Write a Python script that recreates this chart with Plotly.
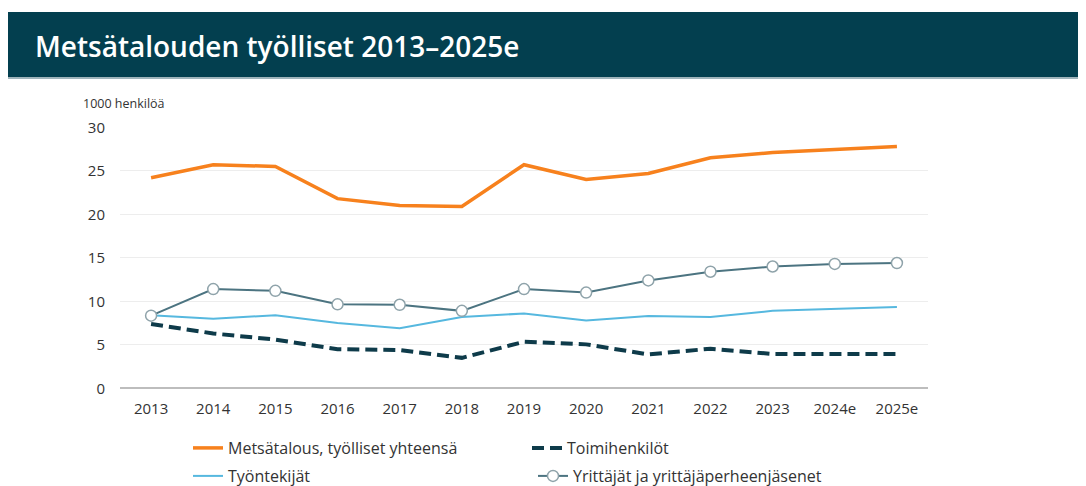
import plotly.graph_objects as go

years = ["2013", "2014", "2015", "2016", "2017", "2018", "2019", "2020",
         "2021", "2022", "2023", "2024e", "2025e"]
metsatalous = [24.2, 25.7, 25.5, 21.8, 21.0, 20.9, 25.7, 24.0, 24.7, 26.5, 27.1, 27.5, 27.8]
toimihenkilot = [7.4, 6.3, 5.6, 4.5, 4.4, 3.5, 5.35, 5.05, 3.9, 4.55, 3.95, 3.95, 3.95]
tyontekijat = [8.4, 8.0, 8.4, 7.5, 6.9, 8.2, 8.6, 7.8, 8.3, 8.2, 8.9, 9.15, 9.35]
yrittajat = [8.35, 11.4, 11.2, 9.65, 9.6, 8.9, 11.4, 11.0, 12.4, 13.4, 14.0, 14.3, 14.4]

# page body has an 8px margin: work in screen pixels and shift by OFF
OFF = 8
W, H = 1086 - OFF, 486 - OFF
def px(x):
    return (x - OFF) / W
def py(y):
    return 1 - (y - OFF) / H

font = "Open Sans"
fig = go.Figure()
fig.add_trace(go.Scatter(x=years, y=metsatalous, mode="lines",
                         name="Metsätalous, työlliset yhteensä",
                         line=dict(color="#f7811d", width=3.5), legend="legend"))
fig.add_trace(go.Scatter(x=years, y=toimihenkilot, mode="lines",
                         name="Toimihenkilöt",
                         line=dict(color="#0e3b4a", width=4, dash="12px,6px"), legend="legend2"))
fig.add_trace(go.Scatter(x=years, y=tyontekijat, mode="lines",
                         name="Työntekijät",
                         line=dict(color="#56b8df", width=2), legend="legend3"))
fig.add_trace(go.Scatter(x=years, y=yrittajat, mode="lines+markers",
                         name="Yrittäjät ja yrittäjäperheenjäsenet",
                         line=dict(color="#4c7481", width=2),
                         marker=dict(size=11, color="white", line=dict(color="#8fa3aa", width=1.5)),
                         legend="legend4"))

shapes = [
    dict(type="rect", xref="paper", yref="paper", x0=px(8), x1=1.0, y0=py(77), y1=py(12),
         fillcolor="#033f4f", line=dict(width=0), layer="below"),
    dict(type="rect", xref="paper", yref="paper", x0=px(8), x1=1.0, y0=py(79), y1=py(77),
         fillcolor="#9fb4bb", line=dict(width=0), layer="below"),
]

annotations = [
    dict(text="Metsätalouden työlliset 2013–2025e", xref="paper", yref="paper",
         x=px(33), y=py(46), xanchor="left", yanchor="middle", showarrow=False,
         font=dict(family=font, size=28, weight=600, color="white")),
    dict(text="1000 henkilöä", xref="paper", yref="paper",
         x=px(81), y=py(103), xanchor="left", yanchor="middle", showarrow=False,
         font=dict(family=font, size=12.5, color="#333333")),
]

def leg(xtext, ycenter):
    return dict(orientation="h", xref="paper", yref="paper",
                x=px(xtext - 40), y=py(ycenter), xanchor="left", yanchor="middle",
                font=dict(family=font, size=16, color="#333333"),
                bgcolor="rgba(0,0,0,0)", itemwidth=30)

fig.update_layout(
    width=W, height=H,
    margin=dict(l=0, r=0, t=0, b=0, autoexpand=False),
    paper_bgcolor="white", plot_bgcolor="white",
    font=dict(family=font, size=15, color="#333333"),
    shapes=shapes, annotations=annotations,
    showlegend=True,
    legend=leg(228, 448),
    legend2=leg(567, 448),
    legend3=leg(228, 476),
    legend4=leg(573, 476),
    xaxis=dict(domain=[px(120), px(928)], type="category", range=[-0.5, 12.5],
               showgrid=False, showline=False, zeroline=False, ticks="",
               tickfont=dict(family=font, size=15, color="#333333"), ticklabelstandoff=10),
    yaxis=dict(domain=[py(388.3), py(127.3)], range=[0, 30], dtick=5,
               showgrid=True, gridcolor="#ededed", gridwidth=1,
               zeroline=True, zerolinecolor="#bdbdbd", zerolinewidth=1.5,
               showline=False, ticks="", tickfont=dict(family=font, size=15, color="#333333"),
               ticklabelstandoff=14),
)

fig.write_html("out.html")
